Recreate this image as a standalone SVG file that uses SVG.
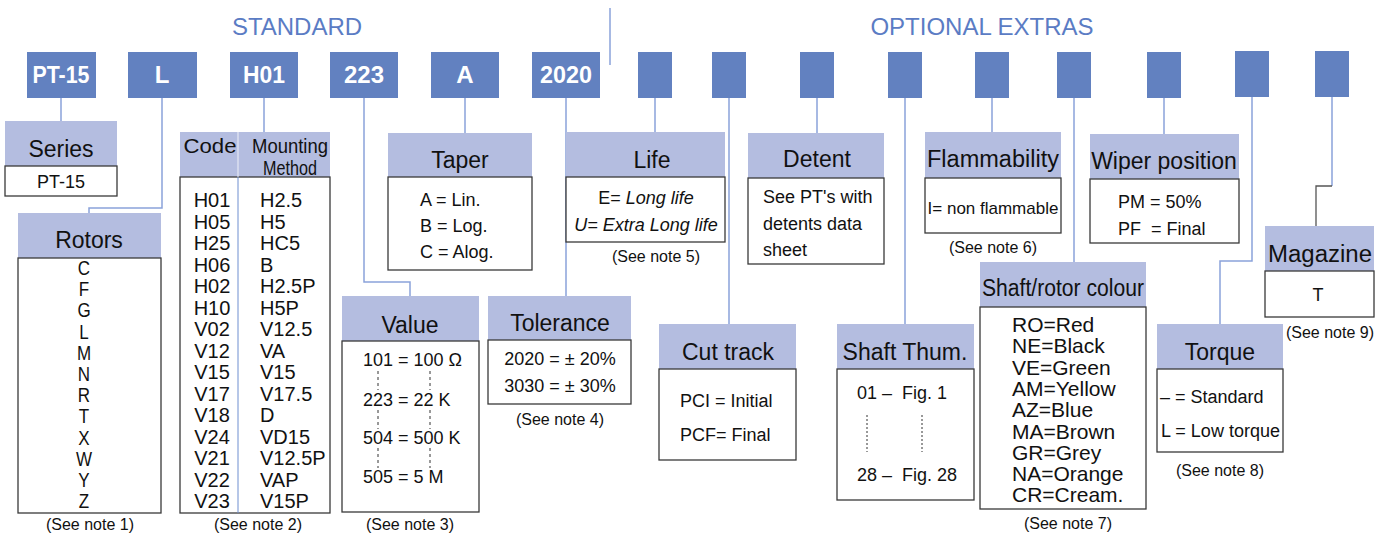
<svg xmlns="http://www.w3.org/2000/svg" width="1389" height="536" viewBox="0 0 1389 536">
<style>
text{font-family:"Liberation Sans",Arial,sans-serif;fill:#111}
.title{font-size:24px;fill:#5b7cc4;text-anchor:middle}
.code{fill:#6281c0}
.ct{font-size:24px;font-weight:bold;fill:#fff;text-anchor:middle}
.hd{fill:#b4bde0}
.ht{font-size:23px;text-anchor:middle}
.bd{fill:#fff;stroke:#3a3a3a;stroke-width:1.3}
.tx{font-size:18px}
.tc{font-size:18px;text-anchor:middle}
.row{font-size:20px}
.note{font-size:16px;text-anchor:middle}
.conn{fill:none;stroke:#8aa2da;stroke-width:1.5}
.dash{fill:none;stroke:#333;stroke-width:1;stroke-dasharray:3,3}
.pre{white-space:pre}
</style>
<rect width="1389" height="536" fill="#fff"/>
<text class="title" x="297" y="35">STANDARD</text>
<text class="title" x="982" y="35">OPTIONAL EXTRAS</text>
<line x1="610" y1="8" x2="610" y2="65" stroke="#8aa2da" stroke-width="1.5"/>

<g id="codes">
<rect class="code" x="27" y="52" width="69" height="46"/><text class="ct" x="61" y="83" textLength="57" lengthAdjust="spacingAndGlyphs">PT-15</text>
<rect class="code" x="128" y="52" width="69" height="46"/><text class="ct" x="162" y="83">L</text>
<rect class="code" x="230" y="52" width="68" height="46"/><text class="ct" x="264" y="83" textLength="42" lengthAdjust="spacingAndGlyphs">H01</text>
<rect class="code" x="330" y="52" width="68" height="46"/><text class="ct" x="364" y="83" textLength="40" lengthAdjust="spacingAndGlyphs">223</text>
<rect class="code" x="431" y="52" width="68" height="46"/><text class="ct" x="465" y="83">A</text>
<rect class="code" x="532" y="52" width="68" height="46"/><text class="ct" x="566" y="83" textLength="52" lengthAdjust="spacingAndGlyphs">2020</text>
<rect class="code" x="638" y="52" width="34" height="46"/>
<rect class="code" x="712" y="52" width="34" height="46"/>
<rect class="code" x="800" y="52" width="34" height="46"/>
<rect class="code" x="888" y="52" width="34" height="46"/>
<rect class="code" x="975" y="52" width="34" height="46"/>
<rect class="code" x="1057" y="52" width="34" height="46"/>
<rect class="code" x="1147" y="52" width="34" height="46"/>
<rect class="code" x="1235" y="51" width="34" height="46"/>
<rect class="code" x="1315" y="51" width="34" height="46"/>
</g>

<g id="connectors">
<path class="conn" d="M61,98V121"/>
<path class="conn" d="M162,98V208H89V213"/>
<path class="conn" d="M264,98V132"/>
<path class="conn" d="M364,98V282H410V296"/>
<path class="conn" d="M465,98V133"/>
<path class="conn" d="M566,98V296"/>
<path class="conn" d="M655,98V132"/>
<path class="conn" d="M729,98V324"/>
<path class="conn" d="M817,98V133"/>
<path class="conn" d="M905,98V324"/>
<path class="conn" d="M992,98V132"/>
<path class="conn" d="M1074,98V262"/>
<path class="conn" d="M1164,98V134"/>
<path class="conn" d="M1252,97V261H1220V324"/>
<path class="conn" d="M1332,97V186"/>
<path fill="none" stroke="#555" stroke-width="1.3" d="M1332,186H1316V226"/>
</g>

<g id="series">
<rect class="hd" x="5" y="121" width="112" height="45"/><text class="ht" x="61" y="157">Series</text>
<rect class="bd" x="5" y="166" width="112" height="30"/><text class="tc" x="61" y="188">PT-15</text>
</g>

<g id="rotors">
<rect class="hd" x="18" y="213" width="143" height="45"/><text class="ht" x="89" y="248">Rotors</text>
<rect class="bd" x="18" y="258" width="143" height="255"/>
<g transform="translate(84,0) scale(0.85,1)">
<text x="0" text-anchor="middle" style="font-size:20px">
<tspan x="0" y="275">C</tspan><tspan x="0" y="296.2">F</tspan><tspan x="0" y="317.4">G</tspan><tspan x="0" y="338.6">L</tspan><tspan x="0" y="359.8">M</tspan><tspan x="0" y="381">N</tspan><tspan x="0" y="402.2">R</tspan><tspan x="0" y="423.4">T</tspan><tspan x="0" y="444.6">X</tspan><tspan x="0" y="465.8">W</tspan><tspan x="0" y="487">Y</tspan><tspan x="0" y="508">Z</tspan>
</text>
</g>
<text class="note" x="90" y="530">(See note 1)</text>
</g>

<g id="mounting">
<rect class="hd" x="180" y="132" width="150" height="45"/>
<rect class="bd" x="180" y="177" width="150" height="336"/>
<line x1="238" y1="132" x2="238" y2="177" stroke="#eef0f8" stroke-width="1"/>
<line x1="238" y1="177" x2="238" y2="513" stroke="#6f8fd0" stroke-width="1"/>
<text x="210" y="153" text-anchor="middle" style="font-size:21px" textLength="53" lengthAdjust="spacingAndGlyphs">Code</text>
<text x="290" y="153" text-anchor="middle" style="font-size:21px" textLength="76" lengthAdjust="spacingAndGlyphs">Mounting</text>
<text x="290" y="175" text-anchor="middle" style="font-size:21px" textLength="54" lengthAdjust="spacingAndGlyphs">Method</text>
<text class="row" text-anchor="middle">
<tspan x="212" y="207">H01</tspan><tspan x="212" y="228.5">H05</tspan><tspan x="212" y="250">H25</tspan><tspan x="212" y="271.5">H06</tspan><tspan x="212" y="293">H02</tspan><tspan x="212" y="314.5">H10</tspan><tspan x="212" y="336">V02</tspan><tspan x="212" y="357.5">V12</tspan><tspan x="212" y="379">V15</tspan><tspan x="212" y="400.5">V17</tspan><tspan x="212" y="422">V18</tspan><tspan x="212" y="443.5">V24</tspan><tspan x="212" y="465">V21</tspan><tspan x="212" y="486.5">V22</tspan><tspan x="212" y="508">V23</tspan>
</text>
<text class="row">
<tspan x="260" y="207">H2.5</tspan><tspan x="260" y="228.5">H5</tspan><tspan x="260" y="250">HC5</tspan><tspan x="260" y="271.5">B</tspan><tspan x="260" y="293">H2.5P</tspan><tspan x="260" y="314.5">H5P</tspan><tspan x="260" y="336">V12.5</tspan><tspan x="260" y="357.5">VA</tspan><tspan x="260" y="379">V15</tspan><tspan x="260" y="400.5">V17.5</tspan><tspan x="260" y="422">D</tspan><tspan x="260" y="443.5">VD15</tspan><tspan x="260" y="465">V12.5P</tspan><tspan x="260" y="486.5">VAP</tspan><tspan x="260" y="508">V15P</tspan>
</text>
<text class="note" x="258" y="530">(See note 2)</text>
</g>

<g id="taper">
<rect class="hd" x="388" y="133" width="144" height="44"/><text class="ht" x="460" y="168">Taper</text>
<rect class="bd" x="388" y="177" width="144" height="93"/>
<text class="tx" x="420" y="206">A = Lin.</text>
<text class="tx" x="420" y="232">B = Log.</text>
<text class="tx" x="420" y="258">C = Alog.</text>
</g>

<g id="value">
<rect class="hd" x="342" y="296" width="137" height="45"/><text class="ht" x="410" y="333">Value</text>
<rect class="bd" x="342" y="341" width="137" height="171"/>
<text class="tx" x="363" y="366">101 = 100 Ω</text>
<text class="tx" x="363" y="406">223 = 22 K</text>
<text class="tx" x="363" y="444">504 = 500 K</text>
<text class="tx" x="363" y="483">505 = 5 M</text>
<path class="dash" d="M378,371V390M430,371V390M378,410V429M430,410V429M378,448V468M430,448V468"/>
<text class="note" x="410" y="530">(See note 3)</text>
</g>

<g id="tolerance">
<rect class="hd" x="488" y="296" width="143" height="44"/><text class="ht" x="560" y="331">Tolerance</text>
<rect class="bd" x="488" y="340" width="143" height="64"/>
<text class="tc" x="560" y="365">2020 = ± 20%</text>
<text class="tc" x="560" y="392">3030 = ± 30%</text>
<text class="note" x="560" y="425">(See note 4)</text>
</g>

<g id="life">
<rect class="hd" x="566" y="132" width="159" height="45"/><text class="ht" x="652" y="168">Life</text>
<rect class="bd" x="566" y="177" width="159" height="65"/>
<text class="tc" x="646" y="204">E= <tspan font-style="italic">Long life</tspan></text>
<text class="tc" x="646" y="231" font-style="italic">U= Extra Long life</text>
<text class="note" x="656" y="262">(See note 5)</text>
</g>

<g id="cut-track">
<rect class="hd" x="659" y="324" width="137" height="45"/><text class="ht" x="728" y="360">Cut track</text>
<rect class="bd" x="659" y="369" width="137" height="91"/>
<text class="tx" x="680" y="407">PCI = Initial</text>
<text class="tx" x="680" y="441">PCF= Final</text>
</g>

<g id="detent">
<rect class="hd" x="748" y="133" width="136" height="45"/><text class="ht" x="817" y="167">Detent</text>
<rect class="bd" x="748" y="178" width="136" height="86"/>
<text class="tx" x="763" y="203">See PT's with</text>
<text class="tx" x="763" y="230">detents data</text>
<text class="tx" x="763" y="256">sheet</text>
</g>

<g id="shaft-thum">
<rect class="hd" x="837" y="324" width="137" height="45"/><text class="ht" x="905" y="360">Shaft Thum.</text>
<rect class="bd" x="837" y="369" width="137" height="131"/>
<text class="tx pre" x="857" y="399">01 –  Fig. 1</text>
<text class="tx pre" x="857" y="481">28 –  Fig. 28</text>
<path fill="none" stroke="#333" stroke-width="1" stroke-dasharray="2,2" d="M867,415V452M922,415V452"/>
</g>

<g id="flammability">
<rect class="hd" x="925" y="132" width="136" height="46"/><text class="ht" x="993" y="167" textLength="132" lengthAdjust="spacingAndGlyphs">Flammability</text>
<rect class="bd" x="925" y="178" width="136" height="55"/>
<text class="tc" x="993" y="214" style="font-size:17px">I= non flammable</text>
<text class="note" x="993" y="253">(See note 6)</text>
</g>

<g id="colour">
<rect class="hd" x="980" y="262" width="166" height="45"/><text class="ht" x="1063" y="296" textLength="162" lengthAdjust="spacingAndGlyphs">Shaft/rotor colour</text>
<rect class="bd" x="980" y="307" width="166" height="202"/>
<text style="font-size:21px">
<tspan x="1012" y="332">RO=Red</tspan><tspan x="1012" y="353.3">NE=Black</tspan><tspan x="1012" y="374.6">VE=Green</tspan><tspan x="1012" y="395.9">AM=Yellow</tspan><tspan x="1012" y="417.2">AZ=Blue</tspan><tspan x="1012" y="438.5">MA=Brown</tspan><tspan x="1012" y="459.8">GR=Grey</tspan><tspan x="1012" y="481.1">NA=Orange</tspan><tspan x="1012" y="502.4">CR=Cream.</tspan>
</text>
<text class="note" x="1068" y="529">(See note 7)</text>
</g>

<g id="wiper">
<rect class="hd" x="1090" y="134" width="149" height="45"/><text class="ht" x="1164" y="169">Wiper position</text>
<rect class="bd" x="1090" y="179" width="149" height="64"/>
<text class="tx pre" x="1118" y="208">PM = 50%</text>
<text class="tx pre" x="1118" y="235">PF  = Final</text>
</g>

<g id="torque">
<rect class="hd" x="1157" y="324" width="126" height="45"/><text class="ht" x="1220" y="360">Torque</text>
<rect class="bd" x="1157" y="369" width="126" height="83"/>
<text class="tx" x="1160" y="403">– = Standard</text>
<text class="tx" x="1161" y="437">L = Low torque</text>
<text class="note" x="1220" y="476">(See note 8)</text>
</g>

<g id="magazine">
<rect class="hd" x="1265" y="226" width="109" height="45"/><text class="ht" x="1320" y="262" textLength="104" lengthAdjust="spacingAndGlyphs">Magazine</text>
<rect class="bd" x="1265" y="271" width="109" height="46"/>
<text class="tc" x="1318" y="301">T</text>
<text class="note" x="1330" y="338">(See note 9)</text>
</g>
</svg>
